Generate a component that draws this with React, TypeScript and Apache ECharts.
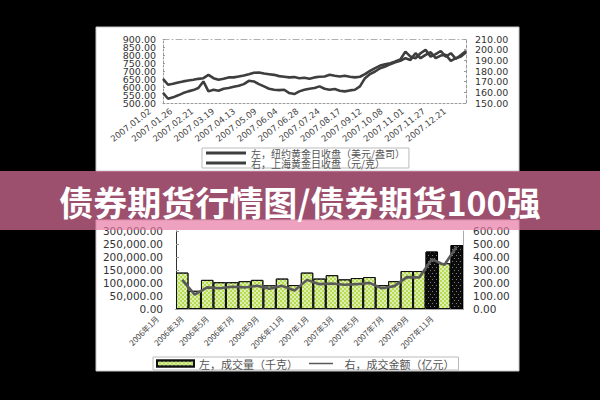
import { useEffect, useRef } from 'react';
import * as echarts from 'echarts';

// ---- Top chart: daily gold closes, 2007 ----
const goldDates = [
  '2007.01.02', '2007.01.26', '2007.02.21', '2007.03.19', '2007.04.13',
  '2007.05.09', '2007.06.04', '2007.06.28', '2007.07.24', '2007.08.17',
  '2007.09.12', '2007.10.08', '2007.11.01', '2007.11.27', '2007.12.21',
];
// NY gold close (USD/oz), sampled across the year
const nyGold = [
  651, 614, 620, 628, 635, 641, 645, 651, 655, 676,
  655, 645, 651, 660, 660, 666, 672, 680, 689, 691,
  684, 680, 676, 668, 664, 660, 662, 655, 658, 651,
  660, 664, 666, 676, 670, 666, 670, 664, 660, 664,
  680, 701, 718, 734, 742, 749, 759, 772, 821, 790,
  780, 811, 832, 790, 805, 825, 790, 811, 776, 800, 825,
];
// Shanghai gold close (CNY/g)
const shGold = [
  159.6, 154.0, 155.3, 157.2, 159.3, 160.9, 162.1, 164.0, 170.2, 160.9,
  162.4, 161.5, 163.4, 164.0, 165.2, 166.2, 167.7, 170.8, 170.2, 167.7,
  165.6, 163.4, 162.4, 162.1, 162.4, 159.3, 158.4, 160.9, 162.4, 163.4,
  164.0, 165.6, 163.4, 162.4, 163.1, 161.5, 160.9, 161.8, 162.4, 165.6,
  173.3, 177.1, 179.5, 182.6, 184.2, 186.4, 188.2, 189.5, 192.0, 190.4,
  196.6, 192.0, 195.1, 197.6, 192.0, 194.5, 195.1, 189.5, 192.0, 193.5, 197.6,
];
const nyName = '左，纽约黄金日收盘（美元/盎司）';
const shName = '右，上海黄金日收盘（元/克）';

// ---- Bottom chart: monthly volume & turnover ----
const months = [
  '2006年1月', '2006年2月', '2006年3月', '2006年4月', '2006年5月', '2006年6月',
  '2006年7月', '2006年8月', '2006年9月', '2006年10月', '2006年11月', '2006年12月',
  '2007年1月', '2007年2月', '2007年3月', '2007年4月', '2007年5月', '2007年6月',
  '2007年7月', '2007年8月', '2007年9月', '2007年10月', '2007年11月',
];
const volume = [
  140000, 70000, 112000, 103000, 103000, 107000, 112000, 91000, 117000, 92000,
  140000, 117000, 130000, 114000, 119000, 123000, 92000, 107000, 146000, 146000,
  221000, 176000, 246000,
];
const amount = [
  224, 110, 166, 160, 171, 166, 178, 155, 178, 143,
  224, 191, 196, 186, 191, 201, 160, 176, 245, 242,
  383, 339, 480,
];
const darkMonths = ['2007年9月', '2007年11月'];
const volName = '左，成交量（千克）';
const amtName = '右，成交金额（亿元）';

const bannerText = '债券期货行情图/债券期货100强';

const NUM_FONT = 'DejaVu Sans';
const CJK_FONT = '"Noto Sans CJK SC"';

// thick horizontal line icon filling a full legend box (tiny corner dots fix the bbox)
const LINE_ICON =
  'path://M0,0L0.01,0L0.01,0.01Z M0,3.6H40V6.4H0Z M0,10L0.01,10L0.01,9.99Z';

export default function App() {
  const ref = useRef<HTMLDivElement>(null);

  useEffect(() => {
    if (!ref.current) return;
    const chart = echarts.init(ref.current, undefined, { renderer: 'svg' });

    const greenDecal = {
      symbol: 'rect',
      symbolSize: 1,
      color: 'rgba(255,255,255,0.55)',
      dashArrayX: [[2, 2], [0, 2, 2, 0]],
      dashArrayY: [2, 0],
    };
    const darkDecal = {
      symbol: 'rect',
      symbolSize: 1,
      color: 'rgba(200,200,200,0.6)',
      dashArrayX: [[1, 3], [0, 2, 1, 1]],
      dashArrayY: [1, 2],
    };

    const gray = '#9a9a9a';
    const idx = nyGold.map((_, i) => String(i));

    // left top-chart axis labels split over two co-located axes so none get hidden
    const leftTopLabel = (even: boolean) => ({
      margin: 7, fontFamily: NUM_FONT, fontSize: 9.5, color: '#333',
      showMinLabel: true, showMaxLabel: true,
      formatter: (v: number) => ((Math.round(v) % 100 === 0) === even ? v.toFixed(2) : ''),
    });

    const option: any = {
      animation: false,
      backgroundColor: '#000',
      grid: [
        { left: 163, top: 39, width: 303, height: 64 },
        { left: 150, top: 39, width: 295, height: 64 },
        { left: 176, top: 231, width: 287, height: 78 },
        { left: 151, top: 231, width: 287, height: 78 },
      ],
      xAxis: [
        {
          gridIndex: 0, type: 'category', data: idx, boundaryGap: false,
          axisLine: { lineStyle: { color: gray, type: [2, 2], width: 1 } },
          axisTick: { show: false }, axisLabel: { show: false }, splitLine: { show: false },
        },
        {
          gridIndex: 0, type: 'category', data: idx, boundaryGap: false, position: 'top',
          axisLine: { lineStyle: { color: '#b0b0b0', type: [6, 3, 1, 3], width: 1 } },
          axisTick: { show: false }, axisLabel: { show: false },
        },
        {
          gridIndex: 1, type: 'category', data: goldDates, boundaryGap: false,
          axisLine: { show: false }, axisTick: { show: false },
          axisLabel: {
            interval: 0, rotate: 38, margin: 7,
            fontFamily: NUM_FONT, fontSize: 8.5, color: '#444',
          },
        },
        {
          gridIndex: 2, type: 'category', data: months, boundaryGap: true,
          axisLine: { lineStyle: { color: '#222', width: 1 } },
          axisTick: { show: false }, axisLabel: { show: false },
        },
        {
          gridIndex: 2, type: 'category', data: months, boundaryGap: true, position: 'top',
          axisLine: { lineStyle: { color: '#aaa', width: 1 } },
          axisTick: { show: false }, axisLabel: { show: false },
        },
        {
          gridIndex: 3, type: 'category', data: months, boundaryGap: true,
          axisLine: { show: false }, axisTick: { show: false },
          axisLabel: {
            interval: 1, rotate: 45, margin: 8,
            fontFamily: CJK_FONT, fontSize: 8, color: '#444',
          },
        },
      ],
      yAxis: [
        {
          gridIndex: 0, type: 'value', min: 500, max: 900, interval: 50, position: 'left',
          axisLine: { show: true, lineStyle: { color: gray, type: [2, 2] } },
          axisTick: { show: true, inside: true, length: 2, lineStyle: { color: gray } },
          splitLine: { show: false },
          axisLabel: leftTopLabel(true),
        },
        {
          gridIndex: 0, type: 'value', min: 150, max: 210, interval: 10, position: 'right',
          axisLine: { show: true, lineStyle: { color: gray, type: [3, 2] } },
          axisTick: { show: true, inside: true, length: 2, lineStyle: { color: gray } },
          splitLine: { show: false },
          axisLabel: {
            margin: 9, fontFamily: NUM_FONT, fontSize: 9.5, color: '#333',
            showMinLabel: true, showMaxLabel: true,
            formatter: (v: number) => v.toFixed(2),
          },
        },
        { gridIndex: 1, type: 'value', show: false },
        {
          gridIndex: 2, type: 'value', min: 0, max: 300000, interval: 50000, position: 'left',
          axisLine: { show: true, lineStyle: { color: '#333' } },
          axisTick: { show: true, inside: true, length: 3, lineStyle: { color: '#999' } },
          splitLine: { show: false },
          axisLabel: {
            margin: 13, fontFamily: NUM_FONT, fontSize: 10.5, color: '#333',
            showMinLabel: true, showMaxLabel: true,
            formatter: (v: number) =>
              v.toLocaleString('en-US', { minimumFractionDigits: 2, maximumFractionDigits: 2 }),
          },
        },
        {
          gridIndex: 2, type: 'value', min: 0, max: 600, interval: 100, position: 'right',
          axisLine: { show: true, lineStyle: { color: '#aaa' } },
          axisTick: { show: false },
          splitLine: { show: false },
          axisLabel: {
            margin: 10, fontFamily: NUM_FONT, fontSize: 10.5, color: '#333',
            showMinLabel: true, showMaxLabel: true,
            formatter: (v: number) => v.toFixed(2),
          },
        },
        { gridIndex: 3, type: 'value', show: false },
        {
          gridIndex: 0, type: 'value', min: 500, max: 900, interval: 50, position: 'left', offset: 0,
          axisLine: { show: false }, axisTick: { show: false }, splitLine: { show: false },
          axisLabel: leftTopLabel(false),
        },
      ],
      legend: [
        {
          data: [
            { name: nyName, icon: LINE_ICON },
            { name: shName, icon: LINE_ICON },
          ],
          orient: 'vertical',
          left: 202, top: 148,
          padding: [0, 4, 0, 4],
          itemGap: 0,
          itemWidth: 40, itemHeight: 10,
          borderColor: '#bbb', borderWidth: 1,
          textStyle: { fontFamily: CJK_FONT, fontSize: 10, lineHeight: 10, color: '#555' },
        },
        {
          data: [
            { name: volName, icon: 'rect' },
            { name: amtName, icon: LINE_ICON },
          ],
          orient: 'horizontal',
          left: 153, top: 357,
          padding: [1, 4, 1, 3],
          itemGap: 11,
          itemWidth: 37, itemHeight: 6,
          borderColor: '#bbb', borderWidth: 1,
          textStyle: { fontFamily: CJK_FONT, fontSize: 11, lineHeight: 11, color: '#555' },
        },
      ],
      series: [
        {
          name: nyName, type: 'line', xAxisIndex: 0, yAxisIndex: 0, data: nyGold,
          symbol: 'none', lineStyle: { color: '#3e3e3e', width: 2.6 }, itemStyle: { color: '#3e3e3e' },
        },
        {
          name: shName, type: 'line', xAxisIndex: 0, yAxisIndex: 1, data: shGold,
          symbol: 'none', lineStyle: { color: '#3e3e3e', width: 2.6 }, itemStyle: { color: '#3e3e3e' },
        },
        {
          name: volName, type: 'bar', xAxisIndex: 3, yAxisIndex: 3,
          barCategoryGap: '0%',
          itemStyle: { color: '#b6dc52', borderColor: '#111', borderWidth: 1, decal: greenDecal },
          data: volume.map((v, i) =>
            darkMonths.includes(months[i])
              ? { value: v, itemStyle: { color: '#0c0c0c', borderColor: '#000', decal: darkDecal } }
              : v
          ),
        },
        {
          name: amtName, type: 'line', xAxisIndex: 3, yAxisIndex: 4, data: amount,
          symbol: 'none', z: 5,
          lineStyle: { color: '#5a5a5a', width: 2.6 }, itemStyle: { color: '#5a5a5a' },
        },
      ],
      graphic: [
        {
          type: 'rect', z: -10, silent: true,
          shape: { x: 96, y: 27, width: 423, height: 144 },
          style: { fill: '#fff', stroke: '#c8c8c8', lineWidth: 1 },
        },
        {
          type: 'rect', z: -10, silent: true,
          shape: { x: 96, y: 220, width: 423, height: 151 },
          style: { fill: '#fff', stroke: '#c8c8c8', lineWidth: 1 },
        },
        {
          type: 'rect', z: 100, silent: true,
          shape: { x: 0, y: 171, width: 600, height: 59 },
          style: { fill: 'rgba(232,118,162,0.68)' },
        },
        {
          type: 'text', z: 101, silent: true,
          x: 300, y: 201,
          style: {
            text: bannerText,
            fill: '#fff',
            font: `bold 34px ${CJK_FONT}`,
            textAlign: 'center',
            textVerticalAlign: 'middle',
          },
        },
      ],
    };

    chart.setOption(option);
    return () => chart.dispose();
  }, []);

  return (
    <div
      ref={ref}
      style={{ position: 'fixed', left: 0, top: 0, width: 600, height: 400, background: '#000' }}
    />
  );
}
